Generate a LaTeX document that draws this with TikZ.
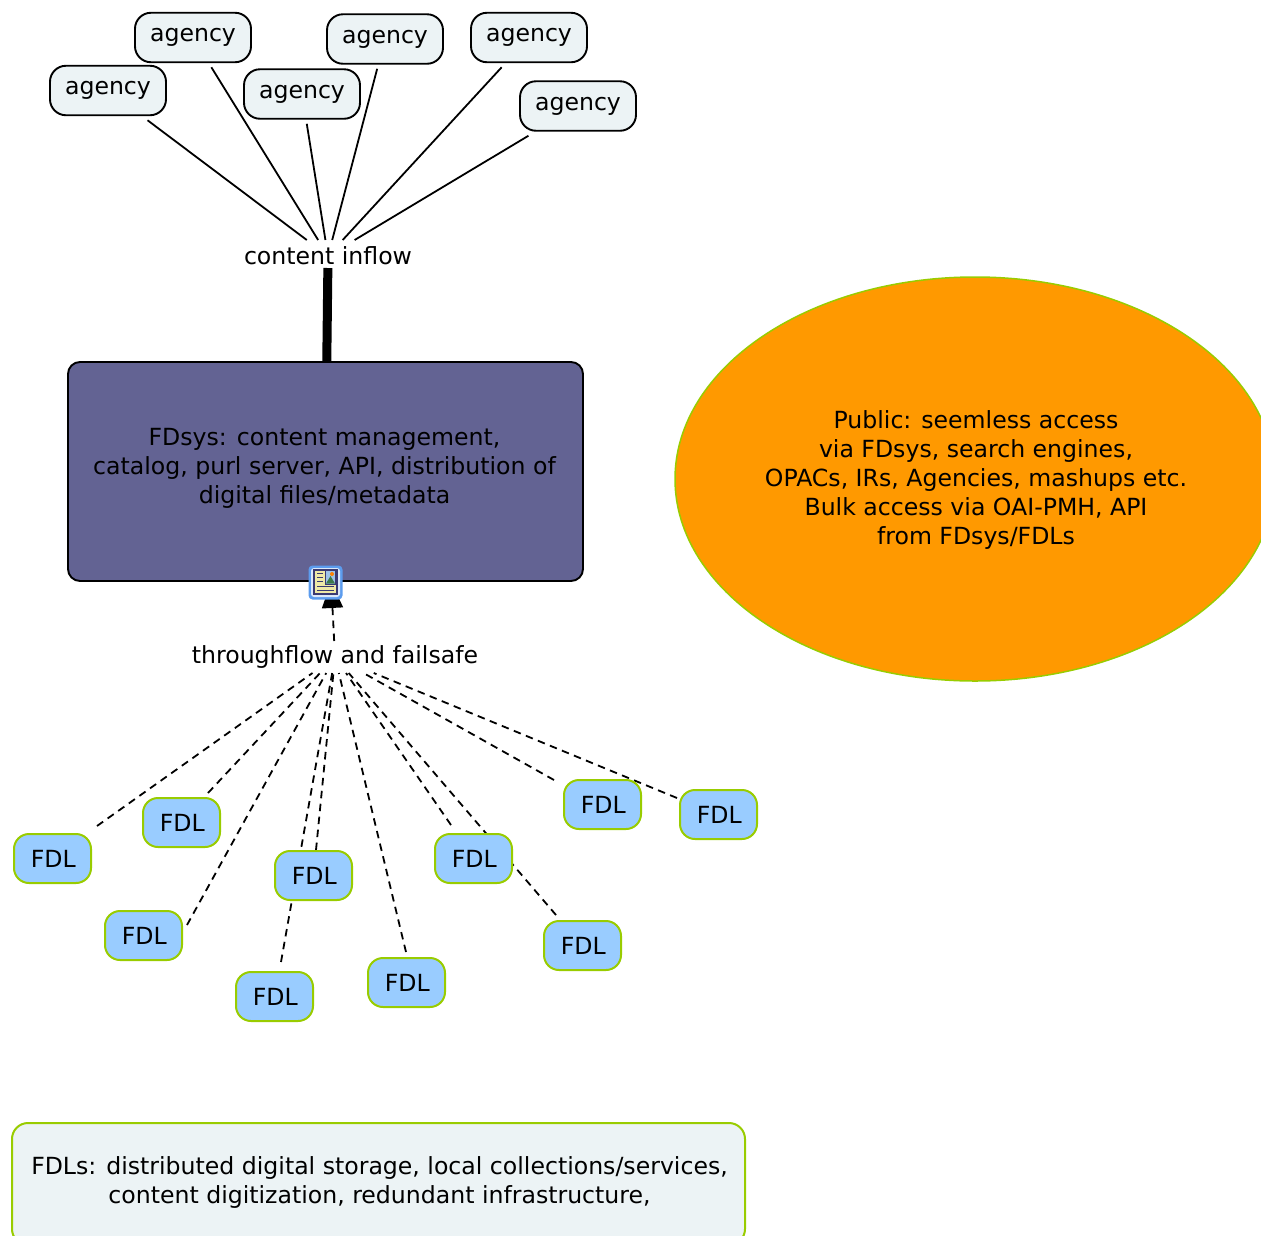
\documentclass[tikz,border=0pt]{standalone}
\usepackage{fontspec}
\setmainfont{DejaVu Sans}
\usetikzlibrary{arrows.meta,backgrounds,shapes.geometric}
\definecolor{mainfill}{HTML}{636393}
\definecolor{pale}{HTML}{ECF3F5}
\definecolor{fdlblue}{HTML}{99CCFF}
\definecolor{limeline}{HTML}{99CC00}
\definecolor{pubfill}{HTML}{FF9900}
\definecolor{iconframe}{HTML}{5C9CEE}
\definecolor{iconhalo}{HTML}{DCE9FA}
\definecolor{iconnavy}{HTML}{3A3A72}
\definecolor{iconpage}{HTML}{EFE9A6}
\definecolor{iconsky}{HTML}{9DC3E8}
\definecolor{icongreen}{HTML}{3F7A4A}
\tikzset{
 every node/.style={font=\fontsize{23.6}{29}\selectfont,text=black},
 agencybox/.style={draw=black,line width=1.9pt,fill=pale,rounded corners=16pt,minimum width=116pt,minimum height=49.5pt,inner sep=0pt,outer sep=5pt,text height=16pt,text depth=8pt},
 fdlbox/.style={draw=limeline,line width=2pt,fill=fdlblue,rounded corners=15pt,minimum width=77pt,minimum height=49pt,inner sep=0pt,execute at begin node=\hspace*{1.5pt}},
 flowlabel/.style={inner sep=0pt,outer sep=2pt,minimum height=28pt},
 solidlink/.style={line width=1.8pt,black},
 dashlink/.style={line width=1.8pt,black,dash pattern=on 7.5pt off 5.5pt},
}
\begin{document}
\begin{tikzpicture}[x=1pt,y=-1pt]
\useasboundingbox (0,0) rectangle (1261,1235);
% agencies
\node[agencybox] (a1) at (108,90.5) {agency};
\node[agencybox] (a2) at (193,37.5) {agency};
\node[agencybox] (a3) at (302,94) {agency};
\node[agencybox] (a4) at (385,39) {agency};
\node[agencybox] (a5) at (529,37.5) {agency};
\node[agencybox] (a6) at (578,106) {agency};
\node[flowlabel] (inflow) at (328,256) {content inflow};
% main box
\node[draw=black,line width=1.9pt,fill=mainfill,rounded corners=12pt,minimum width=515pt,minimum height=219pt,inner sep=0pt] (fdsys) at (325.5,471.5) {};
\node[align=center,inner sep=0pt] (fdsystext) at (324.5,468) {FDsys: content management,\\catalog, purl server, API, distribution of\\digital files/metadata};
% icon
\node[fill=iconframe,rounded corners=4pt,minimum size=34pt,inner sep=0pt] (icon) at (325.5,582.5) {};
\fill[iconhalo,rounded corners=3pt] (311,568) rectangle (340,597);
\fill[iconnavy] (313,568.5) rectangle (338,595);
\fill[iconpage] (315,570.5) rectangle (336,593);
\fill[iconnavy] (325,570.5) rectangle (336,584.5);
\fill[iconsky] (326,571) rectangle (335,583.5);
\fill[icongreen] (326,583.5) -- (330.5,576) -- (335,583.5) -- cycle;
\fill[orange] (332,574) circle (2pt);
\foreach \yy in {573,577,581}{\draw[iconnavy,line width=.8pt] (317,\yy) -- (323,\yy);}
\foreach \yy in {586,590}{\draw[iconnavy,line width=.8pt] (317,\yy) -- (334,\yy);}
% public
\node[draw=limeline,line width=1.5pt,fill=pubfill,ellipse,minimum width=600pt,minimum height=404pt,inner sep=0pt] (public) at (975,479) {};
\node[align=center,inner sep=0pt] (publictext) at (976,480) {Public: seemless access\\via FDsys, search engines,\\OPACs, IRs, Agencies, mashups etc.\\Bulk access via OAI-PMH, API\\from FDsys/FDLs};
\node[flowlabel] (through) at (335,657) {throughflow and failsafe};
% FDLs
\node[fdlbox] (f1) at (52.5,858.5) {FDL};
\node[fdlbox] (f2) at (181.5,822.5) {FDL};
\node[fdlbox] (f3) at (143.5,935.5) {FDL};
\node[fdlbox] (f4) at (313.5,875.5) {FDL};
\node[fdlbox] (f5) at (274.5,996.5) {FDL};
\node[fdlbox] (f6) at (406.5,982.5) {FDL};
\node[fdlbox] (f7) at (473.5,858.5) {FDL};
\node[fdlbox] (f8) at (582.5,945.5) {FDL};
\node[fdlbox] (f9) at (602.5,804.5) {FDL};
\node[fdlbox] (f10) at (718.5,814.5) {FDL};
\coordinate (e1) at (97,826);
\coordinate (e2) at (208,793);
\coordinate (e3) at (187,925);
\coordinate (e4) at (316,850);
\coordinate (e5) at (281,962);
\coordinate (e6) at (406,952);
\coordinate (e7) at (451,825);
\coordinate (e8) at (556,915);
\coordinate (e9) at (554,780);
\coordinate (e10) at (677,798);
\node[draw=limeline,line width=2pt,fill=pale,rounded corners=16pt,minimum width=733pt,minimum height=122pt,inner sep=0pt] (legend) at (378.5,1184) {};
\node[align=center,inner sep=0pt] (legendtext) at (379.5,1182) {FDLs: distributed digital storage, local collections/services,\\content digitization, redundant infrastructure,};
% connectors
\begin{scope}[on background layer]
\foreach \n in {a1,a2,a3,a4,a5,a6}{\draw[solidlink] (\n) -- (inflow);}
\draw[black,line width=9pt,shorten <=-4pt] (inflow) -- (fdsys);
\foreach \n in {e1,e2,e3,e4,e5,e6,e7,e8,e9,e10}{\draw[dashlink] (\n) -- (through);}
\draw[dashlink,-{Triangle[length=26pt,width=21pt]}] (through) -- (fdsys);
\end{scope}
\end{tikzpicture}
\end{document}
